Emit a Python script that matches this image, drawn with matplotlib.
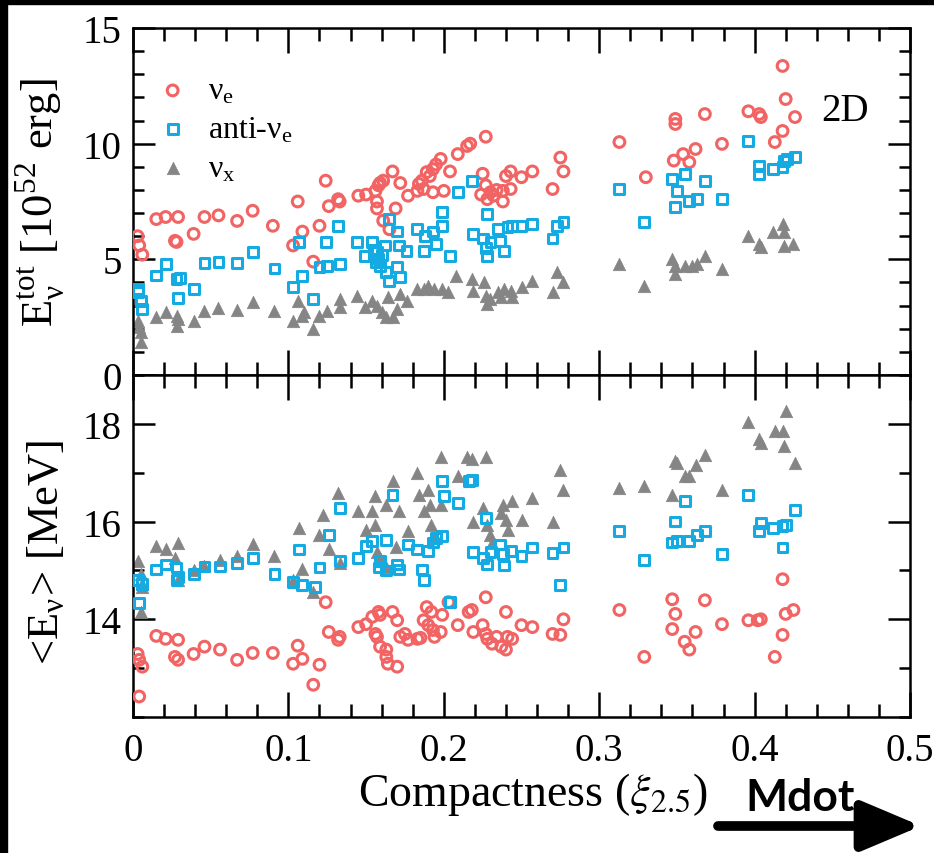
import numpy as np
import matplotlib
matplotlib.use("Agg")
import matplotlib.pyplot as plt
from matplotlib.patches import Rectangle
from matplotlib.ticker import MultipleLocator

plt.rcParams['font.family'] = ['Liberation Serif', 'DejaVu Serif']
plt.rcParams['mathtext.fontset'] = 'stix'

# (compactness, total emitted energy [1e52 erg])
etot_nue = [
    (0.003, 6.0), (0.004, 5.6), (0.006, 5.2), (0.015, 6.74), (0.021, 6.83), (0.029, 6.83),
    (0.027, 5.8), (0.028, 5.75), (0.039, 6.1), (0.046, 6.83), (0.055, 6.9), (0.067, 6.66),
    (0.077, 7.1), (0.090, 6.45), (0.106, 7.5), (0.103, 5.6), (0.109, 6.2), (0.124, 8.4),
    (0.120, 6.45), (0.116, 4.9), (0.126, 7.3), (0.132, 7.6), (0.133, 7.5), (0.145, 7.75),
    (0.150, 7.8), (0.156, 7.96), (0.157, 7.5), (0.158, 8.2), (0.159, 8.3), (0.161, 8.4),
    (0.157, 7.2), (0.161, 6.67), (0.165, 6.3), (0.169, 7.2), (0.167, 8.8), (0.172, 8.3),
    (0.177, 7.75), (0.183, 7.96), (0.184, 8.26), (0.186, 8.4), (0.187, 8.04), (0.189, 8.77),
    (0.191, 8.6), (0.193, 8.9), (0.195, 9.1), (0.198, 9.34), (0.193, 7.9), (0.200, 7.96),
    (0.204, 8.8), (0.209, 9.55), (0.215, 9.9), (0.217, 10.0), (0.227, 10.3), (0.225, 8.7),
    (0.227, 8.2), (0.224, 7.8), (0.230, 7.9), (0.228, 7.6), (0.232, 7.75), (0.234, 8.0),
    (0.238, 7.96), (0.238, 7.5), (0.240, 8.6), (0.243, 8.8), (0.243, 8.04), (0.250, 8.55),
    (0.257, 8.8), (0.270, 8.04), (0.275, 9.4), (0.277, 8.8), (0.313, 10.07), (0.330, 8.55),
    (0.349, 11.07), (0.349, 10.85), (0.348, 9.27), (0.354, 9.55), (0.358, 9.2), (0.362, 9.77),
    (0.368, 11.28), (0.379, 9.99), (0.396, 11.4), (0.403, 11.28), (0.404, 11.15), (0.418, 13.36),
    (0.420, 11.93), (0.426, 11.15), (0.418, 10.55), (0.413, 10.07),
]
etot_anue = [
    (0.003, 3.7), (0.003, 3.6), (0.005, 3.2), (0.006, 2.85), (0.015, 4.3), (0.021, 4.8),
    (0.028, 4.15), (0.030, 4.2), (0.029, 3.33), (0.039, 3.72), (0.046, 4.84), (0.055, 4.9),
    (0.067, 4.84), (0.077, 5.3), (0.091, 4.6), (0.103, 3.8), (0.107, 5.75), (0.109, 4.28),
    (0.116, 3.29), (0.120, 4.67), (0.125, 4.71), (0.124, 5.75), (0.133, 4.8), (0.132, 6.45),
    (0.144, 5.75), (0.149, 5.15), (0.154, 5.75), (0.157, 5.3), (0.156, 4.9), (0.159, 4.7),
    (0.155, 5.4), (0.158, 5.0), (0.160, 5.2), (0.163, 4.45), (0.165, 4.07), (0.162, 5.6),
    (0.165, 6.75), (0.170, 6.2), (0.171, 5.6), (0.172, 4.24), (0.170, 4.67), (0.176, 5.37),
    (0.183, 6.3), (0.187, 5.37), (0.188, 6.0), (0.193, 6.2), (0.195, 5.66), (0.199, 6.45),
    (0.199, 7.05), (0.204, 5.15), (0.209, 7.9), (0.218, 8.4), (0.219, 6.1), (0.228, 6.96),
    (0.225, 5.9), (0.227, 5.5), (0.228, 5.15), (0.230, 5.75), (0.235, 6.3), (0.236, 5.8),
    (0.239, 5.37), (0.241, 6.4), (0.244, 6.45), (0.250, 6.45), (0.257, 6.53), (0.270, 5.9),
    (0.273, 6.45), (0.277, 6.6), (0.313, 8.04), (0.329, 6.6), (0.347, 8.47), (0.350, 7.96),
    (0.349, 7.26), (0.355, 8.69), (0.368, 8.39), (0.358, 7.52), (0.363, 7.6), (0.379, 7.6),
    (0.396, 10.1), (0.403, 9.04), (0.403, 8.69), (0.412, 8.9), (0.418, 9.0), (0.419, 9.25),
    (0.421, 9.34), (0.426, 9.43),
]
etot_nux = [
    (0.003, 2.33), (0.004, 2.07), (0.005, 1.86), (0.005, 1.43), (0.015, 2.5), (0.021, 2.72),
    (0.028, 2.55), (0.028, 2.1), (0.029, 2.4), (0.039, 2.33), (0.046, 2.77), (0.055, 2.9),
    (0.067, 2.8), (0.077, 3.15), (0.091, 2.77), (0.103, 2.33), (0.106, 3.2), (0.109, 2.55),
    (0.116, 1.99), (0.110, 2.72), (0.120, 2.55), (0.125, 2.77), (0.133, 3.29), (0.133, 2.94),
    (0.144, 3.42), (0.149, 2.94), (0.154, 3.2), (0.157, 2.98), (0.160, 2.72), (0.163, 2.5),
    (0.164, 3.37), (0.167, 2.5), (0.170, 2.85), (0.172, 3.5), (0.176, 3.2), (0.183, 3.72),
    (0.187, 3.72), (0.190, 3.85), (0.194, 3.72), (0.199, 3.72), (0.203, 3.59), (0.208, 4.28),
    (0.218, 4.15), (0.219, 3.63), (0.226, 4.02), (0.227, 3.42), (0.228, 3.07), (0.230, 3.29),
    (0.235, 3.59), (0.237, 3.37), (0.239, 3.72), (0.243, 3.63), (0.244, 3.37), (0.250, 3.8),
    (0.257, 4.07), (0.270, 3.59), (0.273, 4.45), (0.277, 4.02), (0.313, 4.8), (0.329, 3.85),
    (0.347, 5.0), (0.349, 4.37), (0.349, 4.7), (0.355, 4.7), (0.360, 4.7), (0.363, 4.8),
    (0.368, 5.15), (0.379, 4.58), (0.396, 6.0), (0.403, 5.66), (0.404, 5.53), (0.412, 6.18),
    (0.418, 6.53), (0.419, 6.18), (0.419, 5.58), (0.425, 5.66),
]

# (compactness, mean energy [MeV])
eavg_nue = [
    (0.003, 13.29), (0.004, 13.17), (0.006, 13.03), (0.004, 12.42), (0.015, 13.66), (0.021, 13.6),
    (0.029, 13.58), (0.027, 13.23), (0.029, 13.17), (0.039, 13.29), (0.046, 13.44), (0.056, 13.38),
    (0.067, 13.17), (0.077, 13.31), (0.090, 13.31), (0.103, 13.09), (0.106, 13.46), (0.109, 13.19),
    (0.116, 12.66), (0.120, 13.07), (0.124, 14.35), (0.126, 13.74), (0.132, 13.58), (0.133, 13.64),
    (0.145, 13.84), (0.150, 13.9), (0.154, 14.05), (0.158, 14.15), (0.159, 14.09), (0.156, 13.7),
    (0.157, 13.64), (0.159, 13.44), (0.163, 13.38), (0.163, 13.23), (0.164, 13.09), (0.170, 13.03),
    (0.167, 14.15), (0.170, 13.98), (0.172, 13.64), (0.175, 13.7), (0.177, 13.58), (0.183, 13.6),
    (0.185, 13.62), (0.189, 14.25), (0.192, 14.15), (0.187, 13.98), (0.190, 13.88), (0.193, 13.78),
    (0.194, 13.64), (0.198, 13.74), (0.199, 14.09), (0.203, 14.35), (0.209, 13.88), (0.216, 14.15),
    (0.218, 14.19), (0.227, 14.45), (0.219, 13.74), (0.225, 13.88), (0.227, 13.7), (0.228, 13.6),
    (0.231, 13.5), (0.234, 13.64), (0.237, 13.44), (0.240, 13.38), (0.241, 13.64), (0.244, 13.6),
    (0.240, 14.15), (0.250, 13.88), (0.257, 13.84), (0.270, 13.7), (0.275, 13.68), (0.277, 14.0),
    (0.313, 14.19), (0.329, 13.23), (0.347, 14.41), (0.349, 14.11), (0.347, 13.8), (0.355, 13.54),
    (0.358, 13.38), (0.362, 13.74), (0.368, 14.39), (0.379, 13.9), (0.396, 13.98), (0.402, 13.98),
    (0.404, 14.0), (0.418, 14.82), (0.420, 14.11), (0.425, 14.19), (0.418, 13.68), (0.413, 13.23),
]
eavg_anue = [
    (0.004, 14.33), (0.006, 14.72), (0.003, 14.8), (0.015, 15.02), (0.021, 15.12), (0.028, 15.06),
    (0.028, 14.8), (0.029, 14.86), (0.039, 14.92), (0.046, 15.08), (0.056, 15.08), (0.067, 15.16),
    (0.077, 15.26), (0.091, 14.92), (0.103, 14.76), (0.107, 15.43), (0.109, 14.7), (0.117, 14.66),
    (0.120, 15.06), (0.126, 15.73), (0.133, 16.28), (0.133, 15.2), (0.145, 15.26), (0.150, 15.5),
    (0.154, 15.6), (0.158, 15.06), (0.159, 15.2), (0.163, 15.63), (0.163, 15.0), (0.167, 16.54),
    (0.170, 15.12), (0.171, 15.02), (0.177, 15.53), (0.183, 15.43), (0.186, 15.02), (0.187, 14.8),
    (0.190, 15.4), (0.193, 15.57), (0.195, 15.67), (0.199, 15.71), (0.199, 16.83), (0.200, 16.52),
    (0.204, 14.35), (0.209, 16.38), (0.216, 16.83), (0.218, 16.85), (0.227, 16.08), (0.219, 15.37),
    (0.225, 15.26), (0.228, 15.12), (0.230, 15.37), (0.236, 15.53), (0.238, 15.33), (0.239, 15.1),
    (0.243, 15.4), (0.250, 15.3), (0.257, 15.47), (0.270, 15.35), (0.277, 15.47), (0.275, 14.7),
    (0.313, 15.81), (0.329, 15.22), (0.349, 16.0), (0.347, 15.57), (0.350, 15.6), (0.355, 16.42),
    (0.358, 15.6), (0.363, 15.73), (0.368, 15.81), (0.379, 15.33), (0.396, 16.54), (0.403, 15.81),
    (0.404, 15.97), (0.412, 15.87), (0.418, 15.91), (0.420, 15.93), (0.418, 15.47), (0.426, 16.24),
]
eavg_nux = [
    (0.003, 15.2), (0.005, 14.92), (0.006, 14.72), (0.005, 14.15), (0.006, 14.66), (0.015, 15.5),
    (0.021, 15.43), (0.029, 15.57), (0.027, 15.26), (0.029, 14.8), (0.039, 15.0), (0.046, 15.1),
    (0.056, 15.22), (0.067, 15.3), (0.077, 15.55), (0.091, 15.3), (0.103, 14.8), (0.107, 15.87),
    (0.109, 15.02), (0.116, 14.55), (0.122, 16.14), (0.120, 15.73), (0.126, 15.43), (0.132, 16.58),
    (0.133, 15.16), (0.145, 16.22), (0.150, 15.83), (0.156, 16.52), (0.154, 16.22), (0.156, 15.94),
    (0.157, 15.37), (0.159, 15.26), (0.163, 15.06), (0.167, 16.83), (0.163, 16.34), (0.171, 16.22),
    (0.169, 15.47), (0.177, 15.81), (0.183, 16.99), (0.184, 16.54), (0.187, 16.22), (0.190, 16.65),
    (0.191, 16.34), (0.192, 15.94), (0.194, 15.67), (0.198, 17.33), (0.198, 16.34), (0.209, 16.93),
    (0.215, 17.33), (0.218, 17.29), (0.227, 17.33), (0.225, 16.28), (0.219, 16.0), (0.228, 15.94),
    (0.230, 15.73), (0.231, 15.57), (0.237, 16.18), (0.238, 16.34), (0.240, 16.04), (0.241, 15.83),
    (0.244, 16.42), (0.250, 16.04), (0.257, 16.48), (0.270, 16.0), (0.275, 17.05), (0.277, 16.65),
    (0.313, 16.69), (0.329, 16.73), (0.349, 17.25), (0.350, 17.19), (0.355, 16.93), (0.358, 16.93),
    (0.362, 17.15), (0.368, 17.36), (0.347, 16.54), (0.379, 16.65), (0.396, 18.04), (0.403, 17.7),
    (0.404, 17.6), (0.413, 17.86), (0.418, 17.86), (0.420, 18.27), (0.419, 17.54), (0.426, 17.19),
]

labels = [r'ν$_\mathregular{e}$', r'anti-ν$_\mathregular{e}$', r'ν$_\mathregular{x}$']
red, blue, grey = '#f26464', '#14aae2', '#858585'

W, H = 934, 854
fig = plt.figure(figsize=(W / 100, H / 100), dpi=100)
ax1 = fig.add_axes([133 / W, 1 - 376 / H, 777 / W, 347 / H])
ax2 = fig.add_axes([133 / W, 1 - 718 / H, 777 / W, 342 / H], sharex=ax1)


def draw(ax, nue, anue, nux):
    x, y = np.array(nue).T
    ax.scatter(x, y, s=60, marker='o', facecolors='none', edgecolors=red,
               linewidths=2.2, label=labels[0], zorder=3)
    x, y = np.array(anue).T
    ax.scatter(x, y, s=50, marker='s', facecolors='none', edgecolors=blue,
               linewidths=2.2, label=labels[1], zorder=3)
    x, y = np.array(nux).T
    ax.scatter(x, y, s=80, marker='^', facecolors=grey, edgecolors=grey,
               linewidths=0.5, label=labels[2], zorder=2)


draw(ax1, etot_nue, etot_anue, etot_nux)
draw(ax2, eavg_nue, eavg_anue, eavg_nux)

ax1.set_xlim(0, 0.5)
ax1.set_ylim(0, 15)
ax2.set_ylim(12, 19)

for ax in (ax1, ax2):
    for sp in ax.spines.values():
        sp.set_linewidth(1.8)
    ax.xaxis.set_major_locator(MultipleLocator(0.1))
    ax.xaxis.set_minor_locator(MultipleLocator(0.02))
    ax.tick_params(which='both', direction='in', top=True, right=True, width=1.8,
                   labelsize=28)
    ax.tick_params(axis='x', which='major', length=18, pad=11)
    ax.tick_params(axis='x', which='minor', length=9.5)
    ax.tick_params(axis='y', which='major', length=16, pad=8)
    ax.tick_params(axis='y', which='minor', length=8)

ax1.yaxis.set_major_locator(MultipleLocator(5))
ax1.yaxis.set_minor_locator(MultipleLocator(1))
ax2.yaxis.set_major_locator(MultipleLocator(2))
ax2.yaxis.set_minor_locator(MultipleLocator(1))
ax2.set_yticks([14, 16, 18])
ax1.tick_params(axis='x', labelbottom=False)
ax2.set_xticks(np.arange(0, 0.51, 0.1))
ax2.set_xticklabels(['0', '0.1', '0.2', '0.3', '0.4', '0.5'])

ax1.set_ylabel(r'E$_\mathregular{ν}^\mathregular{tot}$ [10$^\mathregular{52}$ erg]', fontsize=32)
ax1.yaxis.set_label_coords(-0.085, 0.5)
ax2.set_ylabel(r'<E$_\mathregular{ν}$> [MeV]', fontsize=32)
ax2.yaxis.set_label_coords(-0.085, 0.485)

fig.text(533 / W, 1 - 795 / H, r'Compactness ($\xi_{2.5}$)', fontsize=33,
         ha='center', va='center')

ax1.legend(loc='upper left', bbox_to_anchor=(-0.0065, 0.934), frameon=False, fontsize=23,
           handletextpad=0.5, labelspacing=0.3, borderaxespad=0.4, handlelength=1.2)
ax1.text(0.916, 0.761, '2D', transform=ax1.transAxes, fontsize=28, ha='center', va='center')

# mass accretion arrow
fig.text(800 / W, 1 - 798 / H, 'Mdot', fontsize=32, fontweight='bold',
         family=['Lato', 'DejaVu Sans'], ha='center', va='center')
ax2.annotate('', xy=(921, H - 827), xytext=(718, H - 827), xycoords='figure pixels',
             textcoords='figure pixels',
             arrowprops=dict(arrowstyle='-|>,head_length=0.9,head_width=0.38',
                             mutation_scale=40, lw=7, color='black',
                             shrinkA=0, shrinkB=0))

# dark strips along the top and left edges
fig.patches.append(Rectangle((0, 1 - 5 / H), 1, 5 / H, transform=fig.transFigure,
                             color='black', zorder=10))
fig.patches.append(Rectangle((0, 0), 7 / W, 1, transform=fig.transFigure,
                             color='black', zorder=10))

fig.savefig('out.png', dpi=100)
